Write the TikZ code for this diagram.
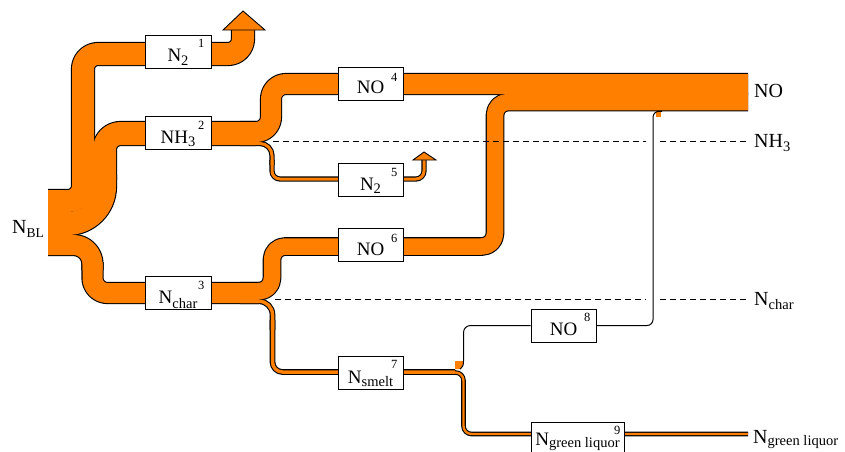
\documentclass[tikz,border=0pt]{standalone}
\usepackage{fontspec}
\setmainfont{Liberation Serif}
\definecolor{flow}{RGB}{255,128,0}
\newcommand\sbs[2][4pt]{\raisebox{-#1}{\fontsize{14.5}{15}\selectfont #2}}
\newcommand\flowlayer[2]{%
  \begin{scope}[color=#2, line cap=butt, line join=round]
    % N2 (1)
    \draw[line width=22pt+#1, rounded corners=15pt] (48,201) -- (83,201) -- (83,54) -- (243,54) -- (243,30);
    % NH3
    \draw[line width=23pt+#1, rounded corners=37pt] (48,223.5) -- (104.5,223.5) -- (104.5,175);
    \draw[line width=23pt+#1, rounded corners=16pt] (104.5,180) -- (104.5,133.5) -- (256,133.5);
    % NO (4)
    \draw[line width=20pt+#1, rounded corners=15pt] (240,132) -- (271,132) -- (271,84) -- (748,84);
    % N2 (5)
    \draw[line width=3pt+#1, rounded corners=12pt] (240,143.5) -- (272,143.5) -- (272,165);
    \draw[line width=3pt+#1, rounded corners=8pt] (272,160) -- (272,179) -- (424,179) -- (424,160);
    % Nchar
    \draw[line width=20pt+#1, rounded corners=19pt] (48,245) -- (92.5,245) -- (92.5,270);
    \draw[line width=20pt+#1, rounded corners=15pt] (92.5,262) -- (92.5,293) -- (259,293);
    % NO (6)
    \draw[line width=16.5pt+#1, rounded corners=13pt] (240,291.25) -- (272,291.25) -- (272,246.5) -- (495,246.5) -- (495,102) -- (748,102);
    % Nsmelt
    \draw[line width=3.5pt+#1, rounded corners=13.5pt] (240,301.25) -- (272.5,301.25) -- (272.5,330);
    \draw[line width=3.5pt+#1, rounded corners=10pt] (272.5,320) -- (272.5,372) -- (455,372);
    % N green liquor
    \draw[line width=2.4pt+#1, rounded corners=8pt] (450,372.5) -- (463.5,372.5) -- (463.5,434) -- (748,434);
  \end{scope}}
\tikzset{
  box/.style={draw=black, fill=white, line width=0.9pt, minimum height=33pt, inner sep=0pt,
    text height=22pt, text depth=2pt, font=\fontsize{19}{21}\selectfont},
  supnum/.style={anchor=base east, inner sep=0pt, font=\fontsize{12.5}{13}\selectfont},
  endlabel/.style={anchor=base west, inner sep=0pt, font=\fontsize{20}{22}\selectfont},
  dashline/.style={black, line width=0.9pt, dash pattern=on 6pt off 4pt},
  thinline/.style={black, line width=1pt},
  arrowhead/.style={fill=flow, draw=black, line width=0.9pt, line join=miter}
}
\begin{document}
\begin{tikzpicture}[x=1pt, y=-1pt]
  \useasboundingbox[fill=white] (0,0) rectangle (845,451);
  % bands: outline layer, then fill layer
  \flowlayer{2.2pt}{black}
  \flowlayer{0pt}{flow}
  % arrow heads
  \draw[arrowhead] (223,30) -- (265,30) -- (243,11) -- cycle;
  \draw[arrowhead] (413,160) -- (436,160) -- (424,152) -- cycle;
  % fillets of the NO (8) line
  \fill[flow] (455,361) -- (463.5,361) .. controls (463.5,365) and (462.5,368) .. (460,369.2) -- (455,369.2) -- cycle;
  \fill[flow] (656,111.3) rectangle (661,117);
  % boxes
  \node[box, minimum width=66pt] (b1) at (178,51.5) {N\sbs[3.5pt]{2}};
  \node[box, minimum width=66pt] (b2) at (178,133) {NH\sbs[3.5pt]{3}};
  \node[box, minimum width=66pt] (b3) at (178,293) {N\sbs[5pt]{char}};
  \node[box, minimum width=65pt] (b4) at (370.5,83.5) {NO};
  \node[box, minimum width=65pt] (b5) at (370.5,180) {N\sbs[3.5pt]{2}};
  \node[box, minimum width=65pt] (b6) at (370.5,245) {NO};
  \node[box, minimum width=65pt] (b7) at (370.5,373) {N\sbs[3pt]{smelt}};
  \node[box, minimum width=65pt] (b8) at (563.5,325.5) {NO};
  \node[box, minimum width=93pt, text height=16pt, text depth=3pt] (b9) at (577.5,438.5) {N\sbs[2pt]{green liquor}};
  % NO (8) connector
  \coordinate (split8) at (463.5,361);
  \coordinate (join8) at (662,111.3);
  \draw[thinline] (460,369.2) .. controls (462.5,368) and (463.5,365) .. (split8);
  \draw[thinline, rounded corners=7pt] (split8) |- (b8.west);
  \draw[thinline, rounded corners=6pt] (b8.east) -| (653,111.3) -- (join8);
  % superscripts
  \node[supnum] (s1) at ([xshift=-7pt,yshift=-13pt]b1.north east) {1};
  \node[supnum] (s2) at ([xshift=-7pt,yshift=-13pt]b2.north east) {2};
  \node[supnum] (s3) at ([xshift=-7pt,yshift=-13pt]b3.north east) {3};
  \node[supnum] (s4) at ([xshift=-6pt,yshift=-15pt]b4.north east) {4};
  \node[supnum] (s5) at ([xshift=-6pt,yshift=-13pt]b5.north east) {5};
  \node[supnum] (s6) at ([xshift=-6pt,yshift=-14pt]b6.north east) {6};
  \node[supnum] (s7) at ([xshift=-6pt,yshift=-12pt]b7.north east) {7};
  \node[supnum] (s8) at ([xshift=-6pt,yshift=-13pt]b8.north east) {8};
  \node[supnum] (s9) at ([xshift=-4pt,yshift=-13pt]b9.north east) {9};
  % dashed level lines
  \coordinate (nh3a) at (273,141.5);
  \coordinate (nh3b) at (646,141.5);
  \coordinate (nh3c) at (660,141.5);
  \coordinate (nh3d) at (746,141.5);
  \coordinate (cha) at (275,299.5);
  \coordinate (chb) at (646,299.5);
  \coordinate (chc) at (660,299.5);
  \coordinate (chd) at (746,299.5);
  \draw[dashline] (nh3a) -- (nh3b);
  \draw[dashline] (nh3c) -- (nh3d);
  \draw[dashline] (cha) -- (chb);
  \draw[dashline] (chc) -- (chd);
  % end labels
  \node[endlabel] (lbl) at (12,233) {N\raisebox{-4pt}{\fontsize{13.5}{14}\selectfont BL}};
  \node[endlabel] (lno) at (754,97) {NO};
  \node[endlabel] (lnh) at (754,147) {NH\sbs{3}};
  \node[endlabel] (lch) at (754,305) {N\sbs{char}};
  \node[endlabel] (lgl) at (753,443) {N\sbs[2pt]{green liquor}};
\end{tikzpicture}
\end{document}
